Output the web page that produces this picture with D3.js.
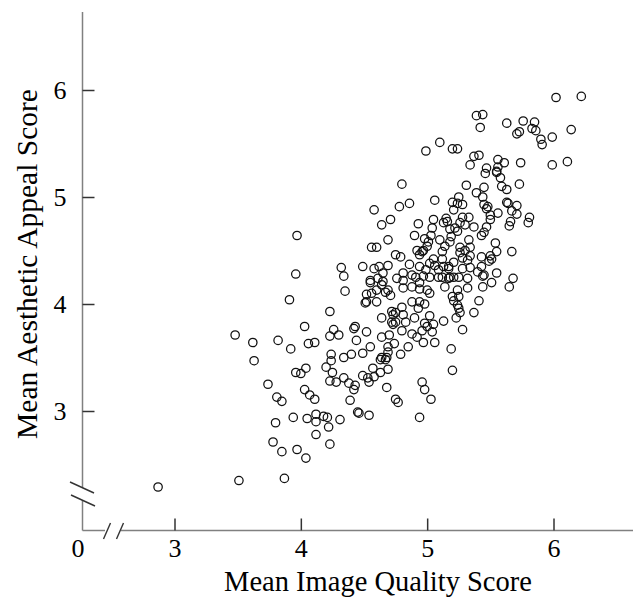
<!DOCTYPE html>
<html>
<head>
<meta charset="utf-8">
<script src="https://cdn.jsdelivr.net/npm/d3@7"></script>
<style>
  body { margin: 0; background: #fff; }
  svg { display: block; font-family: "Liberation Serif", "DejaVu Serif", serif; }
</style>
</head>
<body>
<svg id="chart" width="635" height="599"></svg>
<script>
// mean image quality score (x) and mean aesthetic appeal score (y)
const quality = [
  3.97,3.96,3.91,4.23,4.32,4.34,4.35,4.03,4.26,4.23,4.30,4.43,4.44,3.48,3.62,3.82,3.92,3.63,4.06,4.11,
  4.24,4.24,4.34,4.40,4.20,4.25,4.23,4.28,4.34,4.38,4.43,4.42,4.39,4.45,3.96,4.00,4.04,3.74,3.81,3.85,
  4.03,4.07,4.11,3.94,4.05,4.12,4.12,4.18,4.21,4.22,4.31,4.12,4.23,3.80,3.78,3.85,3.97,4.04,3.87,3.51,
  2.87,4.42,4.51,4.52,4.55,4.49,4.49,4.53,4.54,4.46,4.54,4.94,4.60,4.64,4.72,4.73,4.75,4.72,4.73,4.75,
  4.80,4.81,4.83,4.90,4.88,4.94,4.98,4.93,5.02,4.98,5.00,5.05,5.04,4.96,5.13,5.23,5.25,5.26,5.21,5.24,
  5.37,5.28,4.80,4.88,4.92,4.97,5.06,4.85,4.79,4.70,4.64,4.74,4.69,4.69,4.68,4.67,4.64,4.63,4.69,4.63,
  4.57,4.58,5.19,5.20,4.96,4.98,5.03,4.68,4.75,4.77,5.41,4.80,5.31,5.39,4.58,4.78,4.86,5.06,5.20,5.25,
  5.24,5.28,5.21,4.71,4.64,4.93,5.05,5.15,5.13,5.16,5.28,5.33,5.26,5.30,5.22,5.24,5.37,5.18,5.04,4.90,
  5.03,4.98,5.01,5.00,4.97,5.10,5.19,5.18,5.33,4.69,4.60,4.56,4.92,4.96,4.94,5.14,5.12,5.26,5.26,5.30,
  5.34,5.34,5.28,5.32,4.75,4.79,4.86,5.05,5.02,5.06,5.12,5.13,5.17,5.21,4.58,4.62,4.69,4.94,4.99,5.28,
  5.34,5.40,4.65,4.61,4.65,4.64,4.81,4.88,4.91,4.97,5.02,5.09,5.09,5.12,5.17,5.18,5.21,5.25,5.32,4.76,
  4.81,4.69,4.71,4.67,4.60,4.81,4.88,4.94,4.94,5.00,5.02,5.14,5.17,5.24,5.25,5.20,5.32,4.56,4.55,4.49,
  4.55,4.52,4.52,5.46,5.55,5.58,5.59,5.63,5.73,5.45,5.44,5.45,5.48,5.47,5.63,5.64,5.71,5.67,5.71,5.56,
  5.50,5.50,5.66,5.65,5.81,5.80,5.47,5.45,5.43,5.54,5.55,5.67,5.50,5.51,5.49,5.43,5.43,5.45,5.44,5.55,
  5.68,5.51,5.65,5.44,6.02,6.22,5.39,5.44,5.42,5.63,5.76,5.85,5.83,5.86,5.71,5.73,5.90,5.91,5.99,6.14,
  5.99,6.11,5.10,4.99,5.20,5.24,5.34,5.37,5.41,5.56,5.61,5.56,5.55,5.47,5.74
];
const aesthetic = [
  4.64,4.28,4.04,3.93,4.34,4.26,4.12,3.79,3.76,3.70,3.71,3.79,3.66,3.71,3.64,3.66,3.58,3.47,3.63,3.64,
  3.53,3.47,3.50,3.53,3.41,3.36,3.28,3.27,3.31,3.26,3.24,3.20,3.10,2.99,3.36,3.35,3.40,3.25,3.13,3.09,
  3.20,3.15,3.11,2.94,2.93,2.97,2.90,2.95,2.94,2.85,2.92,2.78,2.69,2.89,2.71,2.62,2.64,2.56,2.37,2.35,
  2.29,3.77,4.01,3.74,3.60,3.54,3.33,3.31,3.27,2.98,2.96,2.94,4.02,3.87,3.93,3.90,3.92,3.83,3.81,3.83,
  3.97,3.90,3.83,3.87,4.02,4.02,4.00,3.96,3.89,3.82,3.79,3.81,3.74,3.75,3.84,3.87,3.96,3.92,4.03,3.99,
  3.92,3.76,3.75,3.72,3.69,3.64,3.64,3.60,3.53,3.71,3.69,3.63,3.60,3.55,3.50,3.48,3.50,3.48,3.39,3.36,
  3.40,3.32,3.58,3.38,3.27,3.20,3.11,3.22,3.11,3.08,4.03,5.12,5.11,5.04,4.88,4.91,4.94,4.97,4.95,5.00,
  4.94,4.93,4.88,4.79,4.74,4.75,4.79,4.80,4.76,4.77,4.81,4.81,4.76,4.74,4.71,4.68,4.72,4.70,4.71,4.64,
  4.64,4.61,4.58,4.54,4.50,4.60,4.63,4.58,4.60,4.60,4.53,4.53,4.50,4.49,4.46,4.54,4.49,4.53,4.48,4.50,
  4.53,4.45,4.43,4.41,4.46,4.44,4.37,4.42,4.38,4.36,4.42,4.35,4.35,4.39,4.33,4.35,4.36,4.35,4.32,4.33,
  4.34,4.30,4.29,4.24,4.21,4.18,4.29,4.27,4.25,4.26,4.25,4.32,4.25,4.25,4.33,4.25,4.25,4.25,4.24,4.24,
  4.22,4.13,4.08,4.11,4.13,4.15,4.16,4.20,4.14,4.13,4.10,4.16,4.24,4.13,4.07,4.07,4.15,4.10,4.20,4.35,
  4.22,4.09,4.02,5.22,5.23,5.18,5.10,5.07,5.12,5.09,5.00,4.93,4.91,4.89,4.95,4.94,4.92,4.87,4.84,4.85,
  4.83,4.79,4.77,4.73,4.81,4.76,4.72,4.67,4.64,4.57,4.49,4.49,4.45,4.42,4.40,4.44,4.35,4.27,4.26,4.29,
  4.24,4.20,4.16,4.16,5.93,5.94,5.76,5.77,5.65,5.69,5.71,5.70,5.64,5.62,5.59,5.61,5.54,5.49,5.56,5.63,
  5.30,5.33,5.51,5.43,5.45,5.45,5.30,5.38,5.39,5.35,5.32,5.28,5.24,5.27,5.32
];
const points = quality.map((q, i) => ({ q: q, a: aesthetic[i] }));

const xTicks = [3, 4, 5, 6];
const yTicks = [3, 4, 5, 6];
const xTitle = "Mean Image Quality Score";
const yTitle = "Mean Aesthetic Appeal Score";

const svg = d3.select("#chart");
const x = d3.scaleLinear().domain([3, 6]).range([174.5, 553.5]);
const y = d3.scaleLinear().domain([3, 6]).range([411, 90]);

const originX = 82.5, originY = 530.5;
const axisColor = "#808080";

// axes lines with the break marks
const frame = svg.append("g").attr("stroke", axisColor).attr("stroke-width", 1.5).attr("fill", "none");
frame.append("line").attr("x1", originX).attr("x2", originX).attr("y1", 12).attr("y2", 488);
frame.append("line").attr("x1", originX).attr("x2", originX).attr("y1", 500).attr("y2", originY);
frame.append("line").attr("x1", originX).attr("x2", 105).attr("y1", originY).attr("y2", originY);
frame.append("line").attr("x1", 121).attr("x2", 633).attr("y1", originY).attr("y2", originY);

const breaks = svg.append("g").attr("stroke", "#333").attr("stroke-width", 1.4);
// y break "\\"
breaks.append("line").attr("x1", 70).attr("y1", 482).attr("x2", 94).attr("y2", 493);
breaks.append("line").attr("x1", 71).attr("y1", 495).attr("x2", 95).attr("y2", 506);
// x break "//"
breaks.append("line").attr("x1", 103.5).attr("y1", 539).attr("x2", 110.5).attr("y2", 523);
breaks.append("line").attr("x1", 116.5).attr("y1", 539).attr("x2", 123.5).attr("y2", 523);

const xAxis = svg.append("g")
  .attr("transform", `translate(0,${originY})`)
  .call(d3.axisBottom(x).tickValues(xTicks).tickFormat(d3.format("d")).tickSize(-12).tickPadding(8));
const yAxis = svg.append("g")
  .attr("transform", `translate(${originX},0)`)
  .call(d3.axisLeft(y).tickValues(yTicks).tickFormat(d3.format("d")).tickSize(-12).tickPadding(16));

[xAxis, yAxis].forEach(g => {
  g.select(".domain").remove();
  g.selectAll(".tick line").attr("stroke", "#333").attr("stroke-width", 1.5);
  g.selectAll(".tick text")
    .attr("fill", "#000")
    .style("font-family", "Liberation Serif, serif")
    .style("font-size", "26px");
});

// origin label
svg.append("text")
  .attr("x", 78).attr("y", originY + 8)
  .attr("dy", "0.71em")
  .attr("text-anchor", "middle")
  .style("font-size", "26px")
  .text("0");

svg.append("text")
  .attr("x", 378).attr("y", 591)
  .attr("text-anchor", "middle")
  .style("font-size", "28.5px")
  .text(xTitle);

svg.append("text")
  .attr("transform", "translate(37,264) rotate(-90)")
  .attr("text-anchor", "middle")
  .style("font-size", "29.5px")
  .text(yTitle);

svg.append("g")
  .selectAll("circle")
  .data(points)
  .join("circle")
  .attr("cx", d => x(d.q))
  .attr("cy", d => y(d.a))
  .attr("r", 4.2)
  .attr("fill", "none")
  .attr("stroke", "#111")
  .attr("stroke-width", 1.25);
</script>
</body>
</html>
